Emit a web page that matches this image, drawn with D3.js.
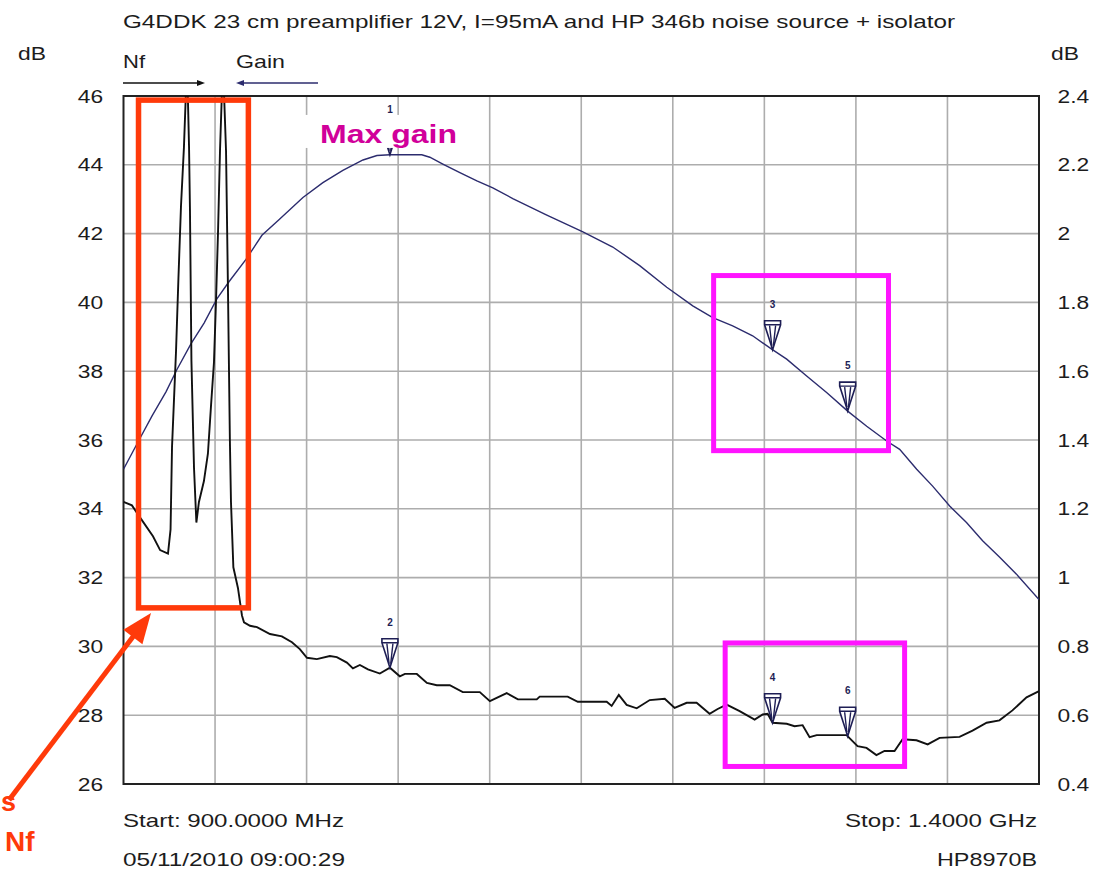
<!DOCTYPE html>
<html><head><meta charset="utf-8">
<script src="https://cdn.jsdelivr.net/npm/d3@7"></script>
<style>
html,body{margin:0;padding:0;background:#fff;}
svg{display:block;font-family:"Liberation Sans",Arial,sans-serif;}
</style></head><body>
<svg id="chart" width="1102" height="872"></svg>
<script>
// ---- data ----
const gainFreq = [900, 908.5, 915.6, 923.2, 929.2, 936.9, 944.0, 951.0, 957.6, 966.9, 975.6, 984.9, 998.0, 1008.9, 1019.8, 1030.8, 1038.4, 1045.5, 1062.9, 1067.3, 1074.4, 1083.7, 1093.0, 1101.7, 1112.6, 1131.2, 1150.9, 1167.2, 1181.9, 1196.7, 1210.9, 1221.8, 1232.7, 1243.6, 1254.0, 1262.2, 1273.1, 1284.0, 1295.5, 1305.9, 1316.8, 1323.9, 1333.2, 1341.9, 1351.2, 1360.4, 1369.2, 1378.4, 1387.7, 1400];
const gainDb = [35.15, 36.0, 36.7, 37.4, 38.05, 38.8, 39.4, 40.1, 40.6, 41.25, 41.95, 42.4, 43.05, 43.48, 43.84, 44.14, 44.27, 44.29, 44.29, 44.22, 44.02, 43.77, 43.53, 43.33, 43.02, 42.54, 42.05, 41.61, 41.07, 40.44, 39.9, 39.56, 39.32, 39.03, 38.64, 38.35, 37.86, 37.38, 36.84, 36.4, 35.97, 35.73, 35.15, 34.66, 34.08, 33.6, 33.07, 32.6, 32.1, 31.36];

const nfFreq = [900, 904.6, 909, 916.1, 920, 924.3, 925.7, 926.5, 928.7, 930, 931.4, 933, 934.7, 935.8, 936.3, 937.1, 938.5, 939.8, 941.2, 943.9, 946.1, 947.8, 949.4, 950.5, 951.6, 952.7, 954.3, 956, 957, 958.1, 958.7, 960, 962.5, 964.7, 965.8, 969.1, 972.9, 980, 986.5, 992, 996.3, 1000.2, 1005.6, 1012.7, 1016.5, 1022, 1025.3, 1029.1, 1033.5, 1040, 1045.5, 1050.9, 1053.7, 1060.2, 1065.7, 1071.1, 1078.2, 1085.3, 1094.6, 1100.1, 1109.3, 1115.4, 1125.7, 1127.3, 1142.6, 1148.1, 1163.9, 1166.6, 1170.5, 1174.8, 1180.3, 1187.4, 1195.6, 1201, 1207.6, 1213, 1220.1, 1224.5, 1229.4, 1236.5, 1244.7, 1249.1, 1251.8, 1254.5, 1262.2, 1266.5, 1270.9, 1274.7, 1278.6, 1294.9, 1300.9, 1305.8, 1311.2, 1315.6, 1321.1, 1325.5, 1333.1, 1339.2, 1345.7, 1356.6, 1363.7, 1371.4, 1378.4, 1385.5, 1393.2, 1400];
const nfDb = [1.22, 1.21, 1.175, 1.12, 1.08, 1.07, 1.14, 1.38, 1.66, 1.87, 2.08, 2.25, 2.5, 2.25, 2.07, 1.63, 1.32, 1.16, 1.22, 1.28, 1.36, 1.5, 1.625, 1.8, 2.0, 2.24, 2.5, 2.24, 1.86, 1.4, 1.22, 1.03, 0.97, 0.89, 0.87, 0.86, 0.856, 0.836, 0.829, 0.812, 0.792, 0.767, 0.763, 0.772, 0.769, 0.753, 0.736, 0.746, 0.733, 0.721, 0.738, 0.713, 0.72, 0.72, 0.694, 0.687, 0.687, 0.667, 0.667, 0.641, 0.664, 0.646, 0.646, 0.654, 0.654, 0.639, 0.639, 0.627, 0.659, 0.63, 0.62, 0.644, 0.648, 0.621, 0.636, 0.636, 0.604, 0.618, 0.631, 0.612, 0.587, 0.602, 0.604, 0.578, 0.575, 0.568, 0.571, 0.536, 0.542, 0.542, 0.51, 0.505, 0.484, 0.496, 0.496, 0.53, 0.527, 0.515, 0.534, 0.537, 0.555, 0.578, 0.585, 0.614, 0.652, 0.67];

const leftTicks = [26, 28, 30, 32, 34, 36, 38, 40, 42, 44, 46];
const rightTicks = [0.4, 0.6, 0.8, 1.0, 1.2, 1.4, 1.6, 1.8, 2.0, 2.2, 2.4];
const rightTickLabels = ["0.4", "0.6", "0.8", "1", "1.2", "1.4", "1.6", "1.8", "2", "2.2", "2.4"];
const xGridFreqs = [950, 1000, 1050, 1100, 1150, 1200, 1250, 1300, 1350];

const markerIds = [1, 2, 3, 4, 5, 6];
const markerFreqs = [1045.5, 1045.5, 1254.5, 1254.5, 1295.5, 1295.5];
const markerTrace = ["gain", "nf", "gain", "nf", "gain", "nf"];

const titleText = "G4DDK 23 cm preamplifier 12V, I=95mA and HP 346b noise source + isolator";
const startText = "Start: 900.0000 MHz";
const stopText = "Stop: 1.4000 GHz";
const dateText = "05/11/2010 09:00:29";
const instText = "HP8970B";

// annotation boxes in data units [f0, f1, gainTop, gainBottom]
const redBox = [908.2, 968.2, 45.88, 31.12];
const magentaBoxes = [[1222.3, 1317.8, 40.78, 35.69], [1228.6, 1326.6, 30.1, 26.51]];
const maxGainBox = [999.1, 1082.0, 45.45, 44.49];

// ---- scales ----
const svg = d3.select("#chart");
const x = d3.scaleLinear().domain([900, 1400]).range([123.5, 1039]);
const yL = d3.scaleLinear().domain([26, 46]).range([784, 96]);
const yR = d3.scaleLinear().domain([0.4, 2.4]).range([784, 96]);

const txtCol = "#1c1c1c";
const gridCol = "#adadad";

// clip
svg.append("defs").append("clipPath").attr("id", "plotclip")
  .append("rect").attr("x", x(900)).attr("y", yL(46)).attr("width", x(1400) - x(900)).attr("height", yL(26) - yL(46));

// grid
const grid = svg.append("g");
grid.selectAll("line.v").data(xGridFreqs).join("line")
  .attr("x1", d => x(d)).attr("x2", d => x(d)).attr("y1", yL(46)).attr("y2", yL(26))
  .attr("stroke", gridCol).attr("stroke-width", 1.6);
grid.selectAll("line.h").data(leftTicks.slice(1, -1)).join("line")
  .attr("x1", x(900)).attr("x2", x(1400)).attr("y1", d => yL(d)).attr("y2", d => yL(d))
  .attr("stroke", gridCol).attr("stroke-width", 1.6);

// axes
const axL = svg.append("g").attr("transform", `translate(${x(900)},0)`)
  .call(d3.axisLeft(yL).tickValues(leftTicks).tickSize(0).tickFormat(d3.format("d")));
axL.select(".domain").remove();
axL.selectAll("text").attr("x", -17).attr("transform", "scale(1.2,1)")
  .attr("font-size", 19).attr("fill", txtCol).attr("font-family", "Liberation Sans, Arial, sans-serif");

const axR = svg.append("g").attr("transform", `translate(${x(1400)},0)`)
  .call(d3.axisRight(yR).tickValues(rightTicks).tickSize(0).tickFormat((d, i) => rightTickLabels[i]));
axR.select(".domain").remove();
axR.selectAll("text").attr("x", 15.5).attr("transform", "scale(1.2,1)")
  .attr("font-size", 19).attr("fill", txtCol).attr("font-family", "Liberation Sans, Arial, sans-serif");

// border
svg.append("rect").attr("x", x(900)).attr("y", yL(46)).attr("width", x(1400) - x(900)).attr("height", yL(26) - yL(46))
  .attr("fill", "none").attr("stroke", "#222").attr("stroke-width", 2);

// traces
const gainData = gainFreq.map((f, i) => [f, gainDb[i]]);
const nfData = nfFreq.map((f, i) => [f, nfDb[i]]);
svg.append("path").datum(gainData).attr("clip-path", "url(#plotclip)")
  .attr("d", d3.line().x(d => x(d[0])).y(d => yL(d[1])))
  .attr("fill", "none").attr("stroke", "#2c2c6e").attr("stroke-width", 1.4);
svg.append("path").datum(nfData).attr("clip-path", "url(#plotclip)")
  .attr("d", d3.line().x(d => x(d[0])).y(d => yR(d[1])))
  .attr("fill", "none").attr("stroke", "#111").attr("stroke-width", 1.9);

// markers
function interp(fs, vs, f) {
  const i = d3.bisectLeft(fs, f);
  if (i <= 0) return vs[0];
  if (i >= fs.length) return vs[vs.length - 1];
  const t = (f - fs[i - 1]) / (fs[i] - fs[i - 1]);
  return vs[i - 1] + t * (vs[i] - vs[i - 1]);
}
const mk = svg.append("g");
markerIds.forEach((id, i) => {
  const f = markerFreqs[i];
  const py = markerTrace[i] === "gain" ? yL(interp(gainFreq, gainDb, f)) : yR(interp(nfFreq, nfDb, f));
  const g = mk.append("g").attr("transform", `translate(${x(f)},${py})`);
  g.append("path").attr("d", "M-8,-29H8V-25L2.5,-8L0,0L-2.5,-8L-8,-25Z")
    .attr("fill", "#fff").attr("stroke", "#1e1e55").attr("stroke-width", 1.6);
  g.append("path").attr("d", "M-8,-25H8M-3,-24L-0.8,-4M3,-24L0.8,-4")
    .attr("fill", "none").attr("stroke", "#1e1e55").attr("stroke-width", 1.4);
  g.append("text").attr("x", 0).attr("y", -42).attr("text-anchor", "middle")
    .attr("font-size", 10).attr("font-weight", "bold").attr("fill", "#1e1e55").text(id);
});

// "Max gain" annotation with white background
svg.append("rect").attr("x", x(maxGainBox[0])).attr("y", yL(maxGainBox[2]))
  .attr("width", x(maxGainBox[1]) - x(maxGainBox[0])).attr("height", yL(maxGainBox[3]) - yL(maxGainBox[2]))
  .attr("fill", "#fff");
svg.append("text").attr("x", 320).attr("y", 143).attr("font-size", 26).attr("font-weight", "bold")
  .attr("fill", "#d1009a").attr("textLength", 137).attr("lengthAdjust", "spacingAndGlyphs").text("Max gain");

// red box + arrow
svg.append("rect").attr("x", x(redBox[0])).attr("y", yL(redBox[2]))
  .attr("width", x(redBox[1]) - x(redBox[0])).attr("height", yL(redBox[3]) - yL(redBox[2]))
  .attr("fill", "none").attr("stroke", "#ff3a0a").attr("stroke-width", 5.5);
const tip = [151, 613], tail = [9, 800];
const ux = (tip[0] - tail[0]), uy = (tip[1] - tail[1]); const ul = Math.hypot(ux, uy);
const u = [ux / ul, uy / ul], p = [-u[1], u[0]];
const hb = [tip[0] - 30 * u[0], tip[1] - 30 * u[1]];
svg.append("line").attr("x1", tail[0]).attr("y1", tail[1]).attr("x2", hb[0] + 3 * u[0]).attr("y2", hb[1] + 3 * u[1])
  .attr("stroke", "#ff3a0a").attr("stroke-width", 5);
svg.append("path").attr("d", `M${tip[0]},${tip[1]}L${hb[0] + 12 * p[0]},${hb[1] + 12 * p[1]}L${hb[0] - 12 * p[0]},${hb[1] - 12 * p[1]}Z`)
  .attr("fill", "#ff3a0a");
svg.append("text").attr("x", 1).attr("y", 811).attr("font-size", 27).attr("font-weight", "bold")
  .attr("fill", "#ff3a0a").text("s");
svg.append("text").attr("x", 5).attr("y", 851).attr("font-size", 28).attr("font-weight", "bold")
  .attr("fill", "#ff3a0a").text("Nf");

// magenta boxes
magentaBoxes.forEach(b => {
  svg.append("rect").attr("x", x(b[0])).attr("y", yL(b[2]))
    .attr("width", x(b[1]) - x(b[0])).attr("height", yL(b[3]) - yL(b[2]))
    .attr("fill", "none").attr("stroke", "#ff14ff").attr("stroke-width", 5);
});

// texts
function txt(s, xx, yy, len, anchor) {
  const t = svg.append("text").attr("x", xx).attr("y", yy).attr("font-size", 19).attr("fill", txtCol).text(s);
  if (len) t.attr("textLength", len).attr("lengthAdjust", "spacingAndGlyphs");
  if (anchor) t.attr("text-anchor", anchor);
  return t;
}
txt(titleText, 123, 28, 832);
txt("dB", 18, 60, 28);
txt("dB", 1051, 60, 28);
txt("Nf", 123, 68, 22);
txt("Gain", 236, 68, 49);
txt(startText, 123, 827, 221);
txt(dateText, 123, 866, 222);
txt(stopText, 1037, 827, 192, "end");
txt(instText, 1037, 866, 100, "end");

// header arrows
svg.append("line").attr("x1", 123).attr("y1", 83).attr("x2", 200).attr("y2", 83).attr("stroke", "#111").attr("stroke-width", 1.5);
svg.append("path").attr("d", "M205,83L197,80L197,86Z").attr("fill", "#111");
svg.append("line").attr("x1", 318).attr("y1", 83).attr("x2", 241).attr("y2", 83).attr("stroke", "#2c2c6e").attr("stroke-width", 1.5);
svg.append("path").attr("d", "M236,83L244,80L244,86Z").attr("fill", "#2c2c6e");
</script>
</body></html>
